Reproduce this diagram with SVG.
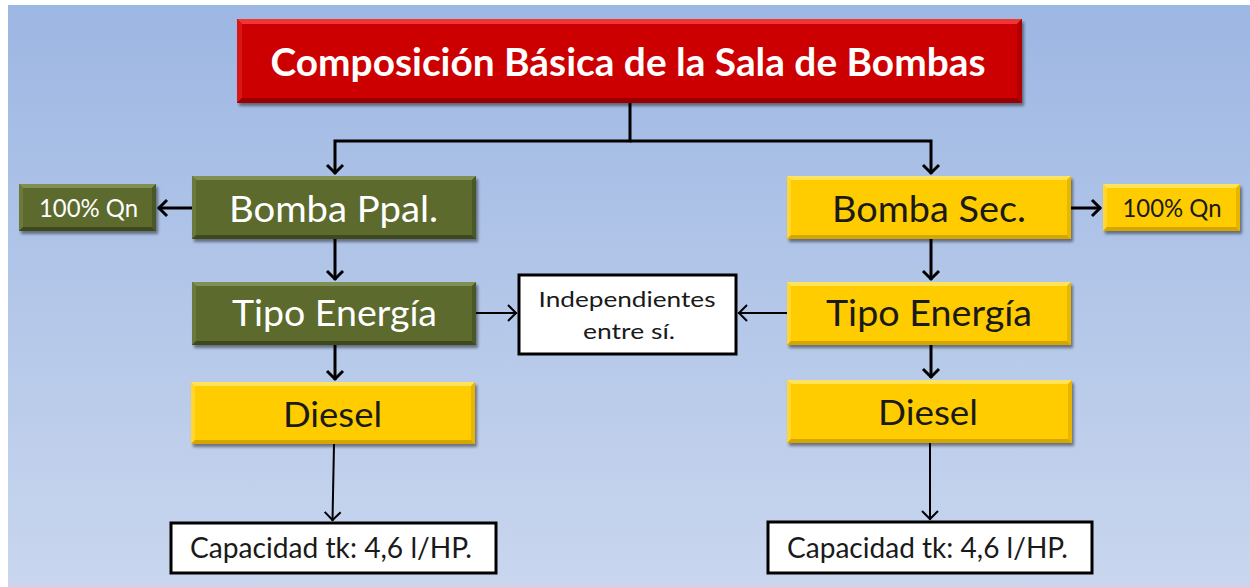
<svg xmlns="http://www.w3.org/2000/svg" width="1250" height="587" viewBox="0 0 1250 587">
<defs>
<linearGradient id="bg" x1="0" y1="0" x2="0" y2="1">
<stop offset="0" stop-color="#9db7e3"/>
<stop offset="1" stop-color="#c9d6ee"/>
</linearGradient>
<filter id="sh" x="-5%" y="-10%" width="115%" height="130%">
<feGaussianBlur in="SourceAlpha" stdDeviation="1.6"/>
<feOffset dx="2" dy="3" result="b"/>
<feComponentTransfer><feFuncA type="linear" slope="0.45"/></feComponentTransfer>
<feMerge><feMergeNode/><feMergeNode in="SourceGraphic"/></feMerge>
</filter>
<marker id="ah" markerUnits="userSpaceOnUse" markerWidth="24" markerHeight="24" viewBox="-14 -12 16 24" refX="0" refY="0" orient="auto">
<path d="M-9,-8 L-1,0 L-9,8" fill="none" stroke="#000" stroke-width="3" stroke-linejoin="miter"/>
</marker>
<marker id="ahs" markerUnits="userSpaceOnUse" markerWidth="24" markerHeight="24" viewBox="-14 -12 16 24" refX="0" refY="0" orient="auto">
<path d="M-9,-8 L-1,0 L-9,8" fill="none" stroke="#000" stroke-width="2"/>
</marker>
</defs>
<style>
.g{fill:#5b6b2f}.gt{fill:#808f52}.gl{fill:#6a7a3b}.gr{fill:#4a5826}.gb{fill:#3e4a1e}
.y{fill:#ffcc00}.yt{fill:#ffe35a}.yl{fill:#ffd633}.yr{fill:#e8b600}.yb{fill:#d6a600}
.r{fill:#cc0000}.rt{fill:#f03535}.rl{fill:#d81414}.rr{fill:#b10000}.rb{fill:#9a0000}
.wb{fill:#fff;stroke:#000;stroke-width:3}
text{font-family:Lato,"Open Sans","Liberation Sans",sans-serif;text-anchor:middle}
.tw{fill:#fff}.tk{fill:#1a1a1a}
.c{fill:none;stroke:#000;stroke-width:3}
.cs{fill:none;stroke:#000;stroke-width:2}
</style>
<rect x="0" y="0" width="1250" height="587" fill="#fff"/>
<rect x="8" y="5" width="1242" height="582" fill="url(#bg)"/>

<g id="connectors">
<path class="c" d="M630,103 V141 H335 V174" marker-end="url(#ah)"/>
<path class="c" d="M630,141 H931 V174" marker-end="url(#ah)"/>
<path class="c" d="M192,208 H158" marker-end="url(#ah)"/>
<path class="c" d="M1071,208 H1101" marker-end="url(#ah)"/>
<path class="c" d="M335,239 V280" marker-end="url(#ah)"/>
<path class="c" d="M335,345 V380" marker-end="url(#ah)"/>
<path class="c" d="M931,239 V280" marker-end="url(#ah)"/>
<path class="c" d="M931,345 V378" marker-end="url(#ah)"/>
<path class="cs" d="M476,313 H517" marker-end="url(#ahs)"/>
<path class="cs" d="M787,313 H738" marker-end="url(#ahs)"/>
<path class="cs" d="M334,444 L332.5,521" marker-end="url(#ahs)"/>
<path class="cs" d="M930,443 V520" marker-end="url(#ahs)"/>
</g>

<g id="title">
<g filter="url(#sh)">
<rect class="r" x="237" y="19" width="785" height="84"/>
<polygon class="rt" points="237,19 1022,19 1017,24 242,24"/>
<polygon class="rl" points="237,19 242,24 242,98 237,103"/>
<polygon class="rr" points="1022,19 1022,103 1017,98 1017,24"/>
<polygon class="rb" points="237,103 1022,103 1017,98 242,98"/>
</g>
<text class="tw" x="628" y="76" font-size="39" font-weight="bold" textLength="715" lengthAdjust="spacingAndGlyphs">Composición Básica de la Sala de Bombas</text>
</g>

<g id="bomba-ppal">
<g filter="url(#sh)">
<rect class="g" x="192" y="176" width="284" height="63"/>
<polygon class="gt" points="192,176 476,176 472,180 196,180"/>
<polygon class="gl" points="192,176 196,180 196,235 192,239"/>
<polygon class="gr" points="476,176 476,239 472,235 472,180"/>
<polygon class="gb" points="192,239 476,239 472,235 196,235"/>
</g>
<text class="tw" x="333.5" y="222" font-size="37" textLength="209" lengthAdjust="spacingAndGlyphs">Bomba Ppal.</text>
</g>

<g id="qn-left">
<g filter="url(#sh)">
<rect class="g" x="19" y="184" width="137" height="47"/>
<polygon class="gt" points="19,184 156,184 152,188 23,188"/>
<polygon class="gl" points="19,184 23,188 23,227 19,231"/>
<polygon class="gr" points="156,184 156,231 152,227 152,188"/>
<polygon class="gb" points="19,231 156,231 152,227 23,227"/>
</g>
<text class="tw" x="88.5" y="217" font-size="25" textLength="99" lengthAdjust="spacingAndGlyphs">100% Qn</text>
</g>

<g id="tipo-left">
<g filter="url(#sh)">
<rect class="g" x="192" y="282" width="284" height="63"/>
<polygon class="gt" points="192,282 476,282 472,286 196,286"/>
<polygon class="gl" points="192,282 196,286 196,341 192,345"/>
<polygon class="gr" points="476,282 476,345 472,341 472,286"/>
<polygon class="gb" points="192,345 476,345 472,341 196,341"/>
</g>
<text class="tw" x="334.5" y="326" font-size="36" textLength="205" lengthAdjust="spacingAndGlyphs">Tipo Energía</text>
</g>

<g id="diesel-left">
<g filter="url(#sh)">
<rect class="y" x="191" y="382" width="284" height="62"/>
<polygon class="yt" points="191,382 475,382 471,386 195,386"/>
<polygon class="yl" points="191,382 195,386 195,440 191,444"/>
<polygon class="yr" points="475,382 475,444 471,440 471,386"/>
<polygon class="yb" points="191,444 475,444 471,440 195,440"/>
</g>
<text class="tk" x="332.5" y="427" font-size="35" textLength="99" lengthAdjust="spacingAndGlyphs">Diesel</text>
</g>

<g id="bomba-sec">
<g filter="url(#sh)">
<rect class="y" x="787" y="176" width="284" height="63"/>
<polygon class="yt" points="787,176 1071,176 1067,180 791,180"/>
<polygon class="yl" points="787,176 791,180 791,235 787,239"/>
<polygon class="yr" points="1071,176 1071,239 1067,235 1067,180"/>
<polygon class="yb" points="787,239 1071,239 1067,235 791,235"/>
</g>
<text class="tk" x="929" y="222" font-size="37" textLength="194" lengthAdjust="spacingAndGlyphs">Bomba Sec.</text>
</g>

<g id="qn-right">
<g filter="url(#sh)">
<rect class="y" x="1103" y="184" width="137" height="47"/>
<polygon class="yt" points="1103,184 1240,184 1236,188 1107,188"/>
<polygon class="yl" points="1103,184 1107,188 1107,227 1103,231"/>
<polygon class="yr" points="1240,184 1240,231 1236,227 1236,188"/>
<polygon class="yb" points="1103,231 1240,231 1236,227 1107,227"/>
</g>
<text class="tk" x="1172" y="217" font-size="25" textLength="99" lengthAdjust="spacingAndGlyphs">100% Qn</text>
</g>

<g id="tipo-right">
<g filter="url(#sh)">
<rect class="y" x="787" y="282" width="284" height="63"/>
<polygon class="yt" points="787,282 1071,282 1067,286 791,286"/>
<polygon class="yl" points="787,282 791,286 791,341 787,345"/>
<polygon class="yr" points="1071,282 1071,345 1067,341 1067,286"/>
<polygon class="yb" points="787,345 1071,345 1067,341 791,341"/>
</g>
<text class="tk" x="929" y="326" font-size="36" textLength="206" lengthAdjust="spacingAndGlyphs">Tipo Energía</text>
</g>

<g id="diesel-right">
<g filter="url(#sh)">
<rect class="y" x="787" y="380" width="285" height="63"/>
<polygon class="yt" points="787,380 1072,380 1068,384 791,384"/>
<polygon class="yl" points="787,380 791,384 791,439 787,443"/>
<polygon class="yr" points="1072,380 1072,443 1068,439 1068,384"/>
<polygon class="yb" points="787,443 1072,443 1068,439 791,439"/>
</g>
<text class="tk" x="928" y="425" font-size="35" textLength="100" lengthAdjust="spacingAndGlyphs">Diesel</text>
</g>

<g id="independientes">
<rect class="wb" x="519" y="275" width="217" height="79"/>
<text class="tk" x="627" y="307" font-size="21" textLength="177" lengthAdjust="spacingAndGlyphs">Independientes</text>
<text class="tk" x="629" y="339" font-size="21" textLength="92" lengthAdjust="spacingAndGlyphs">entre sí.</text>
</g>

<g id="capacidad-left">
<rect class="wb" x="171" y="523" width="325" height="50"/>
<text class="tk" x="331" y="558" font-size="28" textLength="282" lengthAdjust="spacingAndGlyphs">Capacidad tk: 4,6 l/HP.</text>
</g>

<g id="capacidad-right">
<rect class="wb" x="768" y="522" width="324" height="51"/>
<text class="tk" x="927.5" y="558" font-size="28" textLength="281" lengthAdjust="spacingAndGlyphs">Capacidad tk: 4,6 l/HP.</text>
</g>
</svg>
